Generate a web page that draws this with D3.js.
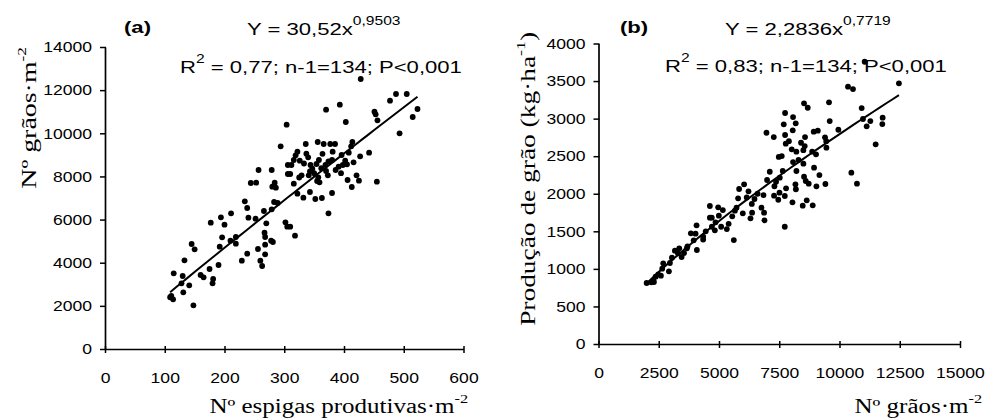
<!DOCTYPE html>
<html>
<head>
<meta charset="utf-8">
<script src="https://cdn.jsdelivr.net/npm/d3@7"></script>
<style>
  body { margin: 0; background: #fff; }
</style>
</head>
<body>
<svg id="chart" width="987" height="419"></svg>
<script>
// panel (a): espigas produtivas/m2 vs grãos/m2
const espigasA = [428,487,505,477,523,515,451,453,456,493,393,370,403,304,294,336,356,366,377,385,
  414,412,408,396,381,442,427,322,319,337,316,312,306,306,310,326,344,347,358,369,
  380,402,405,416,386,370,391,398,421,425,406,413,455,329,341,357,355,359,316,322,
  332,343,352,363,380,374,257,279,244,253,284,280,286,283,289,234,238,279,266,240,
  252,270,211,194,200,177,196,210,219,219,192,302,305,310,318,267,268,268,278,281,
  256,268,260,263,238,229,145,150,133,190,175,160,165,181,180,115,130,128,141,131,
  111,114,148,354,343,340,362,333,374,350,395,364,373,109,325];
const graosA = [12517,11822,11822,11512,11126,10755,11003,10880,10600,10000,11327,11096,10524,10400,9397,9504,9597,9504,9504,9504,
  9597,9397,9100,8994,9147,9100,8933,9147,8979,9054,8762,8530,8530,8113,8113,8731,8530,8360,8762,8530,
  8762,8731,8561,8654,8298,8252,8453,8530,8051,7804,7835,7510,7758,8051,8051,7958,7789,7727,7665,7201,
  7015,7279,6954,7000,7232,6290,8298,8298,7696,7711,7711,7525,7480,6815,6770,6846,6537,6475,6398,6088,
  6042,5825,6290,6104,5764,5856,5177,5020,5193,4884,4745,5872,5670,5670,5252,5392,5193,4837,5020,4960,
  4636,4390,4095,3848,4420,4095,4868,4622,4112,3894,3709,3431,3324,3245,3046,3509,3384,3046,2953,2629,
  2457,2304,2026,8576,8237,8887,8380,8600,8700,8150,8150,9050,8050,2400,7950];

// panel (b): grãos/m2 vs produção de grão (kg/ha)
const graosB = [12466,10353,10560,9565,8529,8682,10920,7742,8073,9594,7687,8184,10974,11280,11790,11777,11127,9953,8930,9100,
  9399,9450,8060,7742,6970,7273,8570,11500,7770,8404,8557,8500,8018,8210,9026,9457,8866,7604,7480,8073,
  8502,7645,8212,7107,8944,9166,10492,10725,7521,7368,6995,8529,8599,8723,9042,9415,8171,8190,7783,7509,
  7730,7285,7460,6846,8048,8640,8474,8889,6763,6870,6887,6374,6307,5988,6361,6473,6224,5835,6042,5793,
  5727,5660,7729,4621,4966,5159,4994,4621,4700,4857,4704,4828,5089,5325,5615,4069,3833,4028,4343,4343,
  3667,3349,3295,3448,3170,4082,3046,2963,2922,2686,2644,2478,2370,2271,2188,1997,2300,11044,2590,3692,
  7900,8300,7300,6600,5400,6150,5550,4450,3950,3550];
const producaoB = [3470,3425,3394,3217,3204,3145,3141,3075,3021,2968,2924,2938,2995,2968,3012,2928,2897,2852,2826,2840,
  2751,2700,2844,2782,2812,2755,2755,2658,2666,2679,2635,2580,2591,2560,2525,2613,2560,2502,2490,2422,
  2400,2303,2303,2293,2347,2249,2280,2134,2214,2160,2183,2227,2170,2134,2099,2130,2126,2060,2072,2014,
  1970,1974,1920,1983,1886,1912,1841,1846,1814,1748,1646,1748,1673,1740,1864,1930,2032,2063,2126,1939,
  1814,1775,1561,1837,1819,1783,1708,1681,1681,1620,1561,1513,1561,1530,1384,1580,1473,1468,1428,1390,
  1274,1274,1207,1158,1242,1251,1149,1078,968,1074,1002,928,896,848,821,812,825,3757,909,1300,
  2700,2450,2100,2000,1600,1950,1700,1500,1380,1210];

const ticksAx = [0,100,200,300,400,500,600];
const ticksAy = [0,2000,4000,6000,8000,10000,12000,14000];
const ticksBx = [0,2500,5000,7500,10000,12500,15000];
const ticksBy = [0,500,1000,1500,2000,2500,3000,3500,4000];

const SANS = "'Liberation Sans', Arial, Helvetica, sans-serif";
const SERIF = "'Liberation Serif', 'Times New Roman', serif";

const svg = d3.select("#chart");

// text in the reference is drawn noticeably wider than the fonts we have, so stretch along the baseline
function label(x, y, o) {
  return svg.append("text")
    .attr("transform", `translate(${x},${y}) rotate(${o.rot || 0}) scale(${o.sx || 1},1)`)
    .attr("font-family", o.family || SANS)
    .attr("font-size", o.size)
    .attr("font-weight", o.weight || "normal")
    .attr("text-anchor", o.anchor || "start")
    .attr("fill", "#000");
}

function sup(t, main, s, size, rise) {
  t.append("tspan").text(main);
  t.append("tspan").attr("font-size", size).attr("dy", -rise).text(s);
}

function panel(cfg) {
  const x = d3.scaleLinear().domain(cfg.xDomain).range([cfg.left, cfg.right]);
  const y = d3.scaleLinear().domain(cfg.yDomain).range([cfg.bottom, cfg.top]);
  const tickSx = 1.17;

  const gx = svg.append("g")
    .attr("transform", `translate(0,${cfg.bottom})`)
    .call(d3.axisBottom(x).tickValues(cfg.xTicks).tickSize(4).tickSizeOuter(0).tickPadding(19).tickFormat(d3.format("d")));
  gx.selectAll(".tick line").attr("y1", -3);

  const gy = svg.append("g")
    .attr("transform", `translate(${cfg.left},0)`)
    .call(d3.axisLeft(y).tickValues(cfg.yTicks).tickSize(5).tickSizeOuter(0).tickPadding(8).tickFormat(d3.format("d")));
  gy.selectAll(".tick line").attr("x1", 1);
  gy.selectAll(".tick text").attr("x", -13 / tickSx);

  [gx, gy].forEach(g => {
    g.attr("font-family", SANS).attr("font-size", 15);
    g.select(".domain").attr("stroke", "#000").attr("stroke-width", 1.7);
    g.selectAll(".tick line").attr("stroke", "#000").attr("stroke-width", 1.5);
    g.selectAll(".tick text").attr("fill", "#000").attr("transform", `scale(${tickSx},1)`);
  });

  svg.append("g").selectAll("circle")
    .data(cfg.xs.map((v, i) => [v, cfg.ys[i]]))
    .join("circle")
    .attr("cx", d => x(d[0]))
    .attr("cy", d => y(d[1]))
    .attr("r", 2.9)
    .attr("fill", "#000");

  const lo = d3.min(cfg.xs), hi = d3.max(cfg.xs);
  const fit = d3.range(0, 41).map(i => lo + (hi - lo) * i / 40);
  svg.append("path")
    .datum(fit)
    .attr("fill", "none")
    .attr("stroke", "#000")
    .attr("stroke-width", 2)
    .attr("d", d3.line().x(d => x(d)).y(d => y(cfg.fa * Math.pow(d, cfg.fb))));
}

panel({xDomain: [0, 600], yDomain: [0, 14000], left: 105, right: 463.5, top: 47, bottom: 349,
  xTicks: ticksAx, yTicks: ticksAy, xs: espigasA, ys: graosA, fa: 30.52, fb: 0.9503});
panel({xDomain: [0, 15000], yDomain: [0, 4000], left: 598.5, right: 960, top: 43.5, bottom: 344,
  xTicks: ticksBx, yTicks: ticksBy, xs: graosB, ys: producaoB, fa: 2.2836, fb: 0.7719});

// panel letters and equations
label(124, 33, {size: 17, weight: "bold", sx: 1.3}).text("(a)");
label(620, 33, {size: 17, weight: "bold", sx: 1.3}).text("(b)");

sup(label(247, 35, {size: 17, sx: 1.3}), "Y = 30,52x", "0,9503", 12, 10);
sup(label(725, 35, {size: 17, sx: 1.3}), "Y = 2,2836x", "0,7719", 12, 10);

let t = label(180, 73, {size: 17, sx: 1.3});
t.append("tspan").text("R");
t.append("tspan").attr("font-size", 12).attr("dy", -10).text("2");
t.append("tspan").attr("dy", 10).text(" = 0,77; n-1=134; P<0,001");

t = label(665, 72, {size: 17, sx: 1.3});
t.append("tspan").text("R");
t.append("tspan").attr("font-size", 12).attr("dy", -10).text("2");
t.append("tspan").attr("dy", 10).text(" = 0,83; n-1=134; P<0,001");

// axis titles
sup(label(468, 413, {size: 20, family: SERIF, anchor: "end", sx: 1.25}), "Nº espigas produtivas·m", "-2", 13, 10);
sup(label(982, 413, {size: 20, family: SERIF, anchor: "end", sx: 1.25}), "Nº grãos·m", "-2", 13, 10);
sup(label(36, 47, {size: 21, family: SERIF, anchor: "end", sx: 1.33, rot: -90}), "Nº grãos·m", "-2", 13, 10);

t = label(535, 32, {size: 20, family: SERIF, anchor: "end", sx: 1.37, rot: -90});
t.append("tspan").text("Produção de grão (kg·ha");
t.append("tspan").attr("font-size", 13).attr("dy", -10).text("-1");
t.append("tspan").attr("dy", 10).text(")");
</script>
</body>
</html>
